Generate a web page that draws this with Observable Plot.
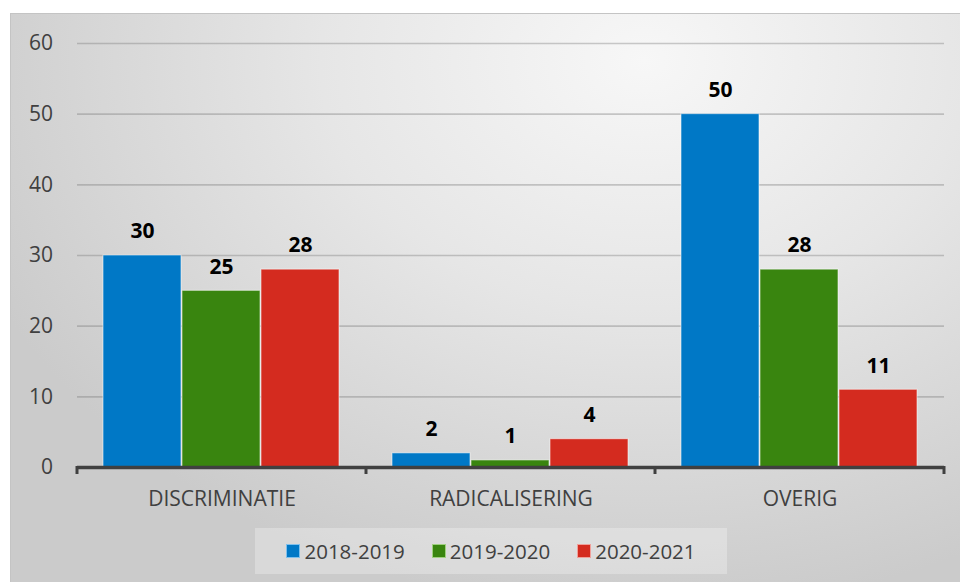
<!DOCTYPE html>
<html>
<head>
<meta charset="utf-8">
<script src="https://cdn.jsdelivr.net/npm/d3@7"></script>
<script src="https://cdn.jsdelivr.net/npm/@observablehq/plot@0.6"></script>
<style>
  html, body { margin: 0; padding: 0; background: #fff; width: 960px; height: 582px; overflow: hidden; }
  #box {
    position: absolute; left: 10px; top: 13px; width: 960px; height: 580px;
    border-top: 1px solid #c4c4c4; border-left: 1px solid #c4c4c4;
    background: radial-gradient(ellipse 75% 95% at 66% 8%, #f7f7f7 0%, #e6e6e6 45%, #cbcbcb 100%);
    font-family: "Open Sans", sans-serif;
  }
  #chart { position: absolute; left: 0; top: 0; }
  #legend {
    position: absolute; left: 244px; top: 514px; width: 472px; height: 46px;
    background: rgba(255,255,255,0.28);
    display: flex; align-items: center; justify-content: center; gap: 27px;
    font-size: 20.5px; color: #404040;
  }
  .item { display: flex; align-items: center; gap: 4px; }
  .sw { width: 14px; height: 14px; box-sizing: border-box; }
</style>
</head>
<body>
<div id="box">
  <div id="chart"></div>
  <div id="legend"></div>
</div>
<script>
const categories = ["DISCRIMINATIE", "RADICALISERING", "OVERIG"];
const years = ["2018-2019", "2019-2020", "2020-2021"];
const v2018 = [30, 2, 50];
const v2019 = [25, 1, 28];
const v2020 = [28, 4, 11];
const yTicks = [0, 10, 20, 30, 40, 50, 60];
const colors = ["#0078C6", "#39850F", "#D42B1F"];
const borders = ["#7fc0ec", "#9fd07f", "#f0a09a"];

const series = [v2018, v2019, v2020];
const data = [];
categories.forEach((c, i) => years.forEach((y, j) => data.push({category: c, year: y, value: series[j][i]})));

const plot = Plot.plot({
  width: 950,
  height: 500,
  marginLeft: 65,
  marginRight: 17,
  marginTop: 29,
  marginBottom: 47,
  style: { background: "transparent", fontFamily: "Open Sans, sans-serif", fontSize: "21px", color: "#404040", overflow: "visible" },
  fx: { domain: categories, padding: 0, label: null },
  x: { domain: years, paddingInner: 0.012, paddingOuter: 0.33, axis: null },
  y: { domain: [0, 60], label: null },
  color: { domain: years, range: colors },
  marks: [
    Plot.ruleY(yTicks.slice(1), { stroke: "#7a7a7a", strokeOpacity: 0.38, strokeWidth: 1.6 }),
    Plot.barY(data, { fx: "category", x: "year", y: "value", fill: "year", stroke: "#ffffff", strokeOpacity: 0.55, strokeWidth: 1 }),
    Plot.text(data, { fx: "category", x: "year", y: "value", text: d => String(d.value), dy: -24, fontWeight: "bold", fontSize: 21, fill: "#000" }),
    Plot.ruleY([0], { stroke: "#404040", strokeWidth: 3.5 }),
    Plot.axisY({ ticks: yTicks, tickSize: 0, tickPadding: 24.5, fontSize: 21 }),
    Plot.axisFx({ anchor: "bottom", tickSize: 0, tickPadding: 24, fontSize: 21, label: null })
  ]
});
document.getElementById("chart").appendChild(plot);

const svg = d3.select(plot);

// Excel-style tick marks at category boundaries, from the fx scale
const fx = plot.scale("fx");
const bw = fx.bandwidth;
const y = plot.scale("y");
const y0 = y.apply(0);
const bounds = categories.map(c => fx.apply(c)).concat([fx.apply(categories[categories.length - 1]) + bw]);
svg.append("g").selectAll("line").data(bounds).join("line")
  .attr("x1", d => d).attr("x2", d => d)
  .attr("y1", y0 - 1).attr("y2", y0 + 7)
  .attr("stroke", "#404040").attr("stroke-width", 3);

// Legend
const legend = d3.select("#legend");
years.forEach((yr, i) => {
  const it = legend.append("div").attr("class", "item");
  it.append("div").attr("class", "sw").style("background", colors[i]).style("border", `1px solid ${borders[i]}`);
  it.append("span").text(yr);
});
</script>
</body>
</html>
